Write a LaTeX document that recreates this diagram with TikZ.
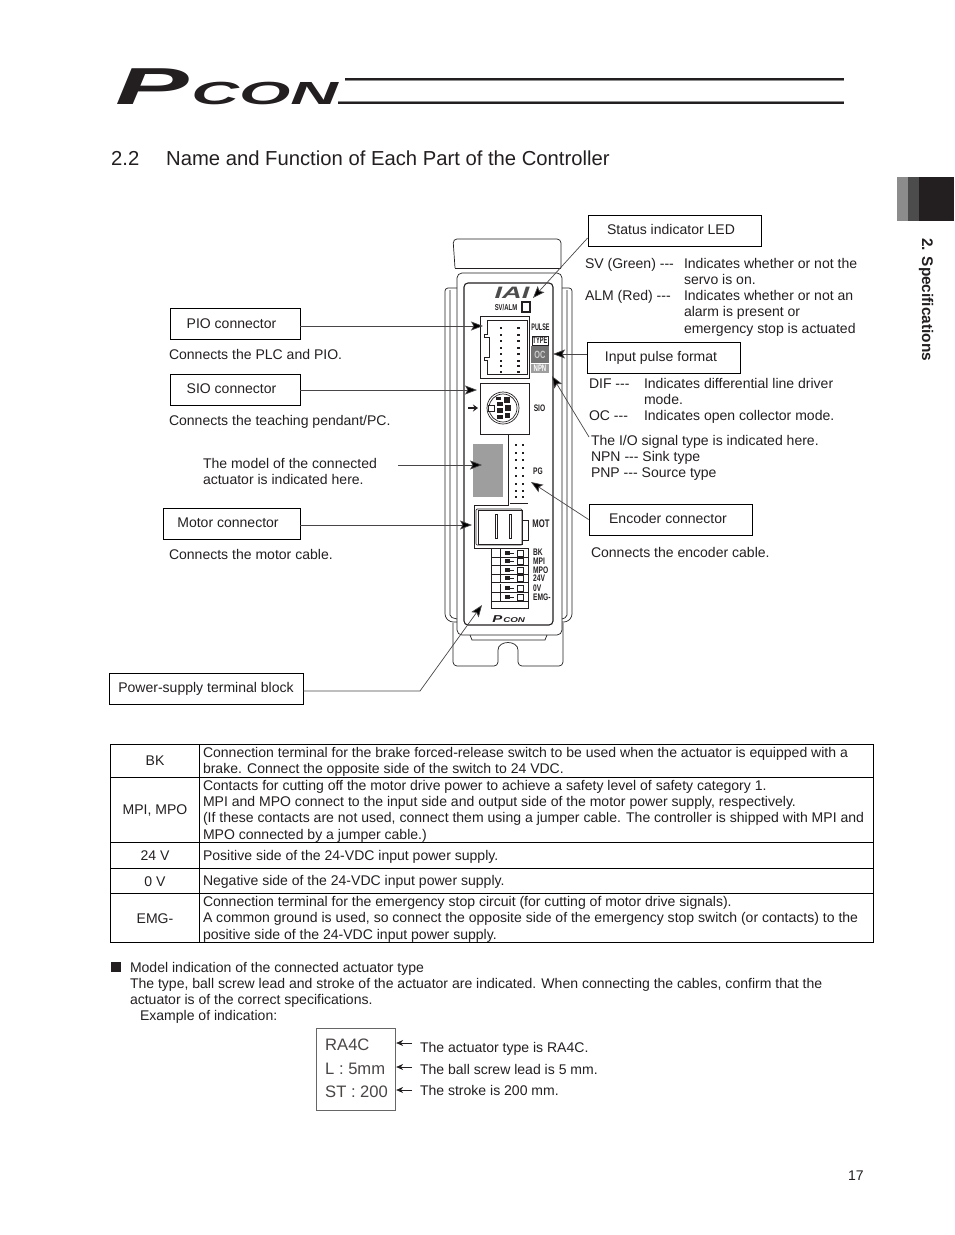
\documentclass[tikz,border=0pt]{standalone}
\usepackage{fontspec}
\setmainfont{Liberation Sans}
\usetikzlibrary{arrows.meta}
\definecolor{ink}{HTML}{231F20}
\definecolor{lead}{HTML}{4A4646}
\tikzset{
 body/.style={anchor=base west,inner sep=0pt,outer sep=0pt,font=\fontsize{14.03}{16}\selectfont,text=ink},
 mid/.style={anchor=base,inner sep=0pt,outer sep=0pt,font=\fontsize{14.03}{16}\selectfont,text=ink},
 pbox/.style={draw=black,line width=.8pt,inner sep=0pt,font=\fontsize{14.03}{16}\selectfont,text=ink},
 lead/.style={draw=lead,line width=.7pt,-{Stealth[length=12pt,width=9pt,inset=2.5pt,fill=black]}},
 devline/.style={draw=ink,line width=.7pt},
 devthick/.style={draw=ink,line width=1.1pt},
 devtext/.style={inner sep=0pt,font=\bfseries\fontsize{9.5}{10}\selectfont,text=ink,transform shape,xscale=.7},
 devleft/.style={devtext,anchor=west},
 tline/.style={draw=black,line width=.6pt},
 smallarr/.style={draw=ink,line width=.7pt,-{Stealth[length=7pt,width=6pt]}},
 lcd/.style={anchor=base west,inner sep=0pt,font=\fontsize{16.6}{18}\selectfont,text=lead},
}
\newcommand{\TX}[4]{\node[body] (#1) at (#2,#3) {#4};}
\newcommand{\MX}[4]{\node[mid] (#1) at (#2,#3) {#4};}
\newcommand{\ddd}{-{}-{}-}
\begin{document}
\begin{tikzpicture}[x=1pt,y=-1pt]
\useasboundingbox (0,0) rectangle (954,1235);
% logo
\node[anchor=base west,inner sep=0pt,font=\bfseries\itshape\fontsize{52}{52}\selectfont,text=ink,transform shape,xscale=2.12] (logoP) at (115,104) {P};
\node[anchor=base west,inner sep=0pt,font=\bfseries\itshape\fontsize{32}{32}\selectfont,text=ink,transform shape,xscale=2.06] (logoC) at (191,104) {CON};
\draw[draw=black!45,line width=1pt] (345,80.6) -- (844,80.6);
\draw[draw=ink,line width=2pt] (345,78.6) -- (844,78.6);
\draw[draw=black!45,line width=1pt] (338,101.3) -- (844,101.3);
\draw[draw=ink,line width=1.6pt] (338,103) -- (844,103);
% heading
\node[anchor=base west,inner sep=0pt,font=\fontsize{20.25}{22}\selectfont,text=ink] (hnum) at (111,165) {2.2};
\node[anchor=base west,inner sep=0pt,font=\fontsize{20.25}{22}\selectfont,text=ink] (head) at (166,165) {Name and Function of Each Part of the Controller};
% side tab
\fill[black!45] (897,177) rectangle (908,221);
\fill[black!70] (908,177) rectangle (919,221);
\fill[ink] (919,177) rectangle (954,221);
\node[anchor=base west,rotate=-90,inner sep=0pt,font=\bfseries\fontsize{15.4}{16}\selectfont,text=ink] (side) at (922,238) {2. Specifications};
% device: plates
\draw[devline,rounded corners=4pt] (455,268) -- (453,239) -- (561,239) -- (561,268);
\draw[devline] (455,268) -- (561,268);
\draw[devline,rounded corners=4pt] (453,623) -- (453,666) -- (498,666) -- (498,654) .. controls (498,640) and (518,640) .. (518,654) -- (518,666) -- (563,666) -- (563,623);
\draw[devline] (470,635) -- (472,640) -- (545,640) -- (547,635);
% device: flanges and body
\draw[devline,rounded corners=3pt] (457,288) -- (445,288) -- (445,617) -- (450,622) -- (457,622);
\draw[devline,rounded corners=2pt] (450,290) -- (450,617) -- (457,619);
\draw[devline,rounded corners=3pt] (562,288) -- (572,288) -- (572,617) -- (567,622) -- (562,622);
\draw[devline,rounded corners=2pt] (567,290) -- (567,617) -- (562,619);
\draw[devline,rounded corners=5pt] (457,635) -- (457,273) -- (562,273) -- (562,635) -- cycle;
\draw[devthick,rounded corners=4pt] (464,283) rectangle (553,625);
% device: IAI and LED
\node[inner sep=0pt,font=\bfseries\itshape\fontsize{16.5}{17}\selectfont,text=black!70,transform shape,xscale=1.65] (iai) at (512,292.5) {IAI};
\node[devtext,font=\bfseries\fontsize{8.5}{9}\selectfont] (svalm) at (506,307) {SV/ALM};
\draw[devthick,draw=ink] (522,302) rectangle (530,312);
% device: PIO connector
\draw[devline,line width=.9pt] (480,378) -- (480,316) -- (529,316) -- (529,378) -- cycle;
\draw[devline] (487,320) -- (527,320) -- (527,374) -- (487,374) -- (487,360) -- (484,360) -- (484,357) -- (489,357) -- (489,337) -- (484,337) -- (484,334) -- (487,334) -- cycle;
\foreach \yy in {328,335,341,348,354,361,366,372}{
 \fill[ink] (499.5,\yy-1) rectangle (502,\yy+1);
 \fill[ink] (517,\yy-1) rectangle (519.5,\yy+1);
}
% device: SIO
\draw[devline,line width=.9pt] (480,383) rectangle (529,434);
\draw[devline] (503,408) circle (16);
\draw[devline] (503,408) circle (14);
\draw[devline,fill=white] (488,405) rectangle (494,411);
\fill[ink] (496,397) rectangle (501,400); \fill[ink] (504,397) rectangle (510,403);
\fill[ink] (497,402) rectangle (503,406); \fill[ink] (505,405) rectangle (511,411);
\fill[ink] (497,408) rectangle (503,413); \fill[ink] (505,413) rectangle (510,418);
\fill[ink] (497,415) rectangle (503,419);
\coordinate (blkTip) at (478,408);
\coordinate (blkEnd) at (468,408);
\draw[draw=ink,line width=2pt,-{Stealth[length=5pt,width=7pt]}] (blkEnd) -- (blkTip);
% device: grey panel and PG
\fill[fill=black!38] (473,444) rectangle (503,497);
\draw[devline] (508,434) -- (508,505) -- (474,505) -- (474,548) -- (491,548);
\draw[devline] (510,503) -- (528,503);
\foreach \yy in {445,453,460,468,476,484,491,497}{
 \fill[ink] (514.5,\yy-1) rectangle (516.5,\yy+1);
 \fill[ink] (521.5,\yy-1) rectangle (523.5,\yy+1);
}
% device: motor connector
\draw[devline,rounded corners=1pt] (476,509) rectangle (522,545);
\draw[devline] (478,510) rectangle (522,544);
\draw[devline] (522,520) -- (528,520) -- (528,540) -- (522,540);
\draw[devline] (495,514) rectangle (497,538);
\draw[devline] (509,514) rectangle (511,538);
% device: terminal block
\draw[devline,line width=.9pt] (491,548) -- (491,608) -- (528,608) -- (528,548) -- cycle;
\foreach \yy in {553,561,570,578,588,597}{
 \draw[devline] (491,\yy+4.3) -- (528,\yy+4.3);
 \fill[ink] (505,\yy-2) rectangle (510,\yy+2);
 \draw[devline] (510,\yy) -- (514,\yy);
 \draw[devline] (517,\yy-3) rectangle (523,\yy+3);
 \draw[devline] (500,\yy-4) -- (500,\yy+4);
}
% device: labels
\node[devtext,xscale=.82] (dPulse) at (540.5,327) {PULSE};
\node[devtext,draw=ink,text=ink,inner sep=1pt,xscale=.85] (dType) at (540,340.5) {TYPE};
\fill[black!55] (531,346) rectangle (549,363);
\node[devtext,text=black!20,font=\bfseries\fontsize{10.5}{11}\selectfont] (dOC) at (540,354.5) {OC};
\fill[black!38] (531,364) rectangle (549,373);
\node[devtext,text=white,xscale=.9] (dNPN) at (540,368.5) {NPN};
\node[devtext] (dSIO) at (539.5,408) {SIO};
\node[devtext] (dPG) at (538,471) {PG};
\node[devtext,font=\bfseries\fontsize{11}{11}\selectfont] (dMOT) at (541,524) {MOT};
\node[devleft] (dBK) at (533,552.5) {BK};
\node[devleft] (dMPI) at (533,561) {MPI};
\node[devleft] (dMPO) at (533,570) {MPO};
\node[devleft] (d24) at (533,578.5) {24V};
\node[devleft] (d0V) at (533,588) {0V};
\node[devleft] (dEMG) at (533,597) {EMG-};
\node[anchor=base west,inner sep=0pt,font=\bfseries\itshape\fontsize{10}{10}\selectfont,text=ink,transform shape,xscale=1.5] (smallP) at (492,622) {P};
\node[anchor=base west,inner sep=0pt,font=\bfseries\itshape\fontsize{7}{7}\selectfont,text=ink,transform shape,xscale=1.4] (smallC) at (503,622) {CON};
% callout boxes
\node[pbox,minimum width=173pt,minimum height=31pt] (status) at (674.5,230.5) {\raisebox{1.5pt}{\kern-7pt Status indicator LED}};
\node[pbox,minimum width=130pt,minimum height=31pt] (pio) at (235,323.5) {\raisebox{.5pt}{\kern-7pt PIO connector}};
\node[pbox,minimum width=130pt,minimum height=31pt] (sio) at (235,389.5) {\raisebox{1.5pt}{\kern-7pt SIO connector}};
\node[pbox,minimum width=137pt,minimum height=31pt] (motor) at (231.5,523.5) {\raisebox{1.5pt}{\kern-7pt Motor connector}};
\node[pbox,minimum width=153pt,minimum height=31pt] (input) at (663.5,357.5) {\kern-5pt Input pulse format};
\node[pbox,minimum width=163pt,minimum height=31pt] (encoder) at (670.5,519.5) {\raisebox{1.5pt}{\kern-5pt Encoder connector}};
\node[pbox,minimum width=194pt,minimum height=31pt] (power) at (206,688.5) {Power-supply terminal block};
% connector targets
\coordinate (tStatus) at (533,298);
\coordinate (tPio) at (483,326);
\coordinate (tSio) at (477,390);
\coordinate (tModel) at (482,465);
\coordinate (tMotor) at (472,525);
\coordinate (tInput) at (553,354);
\coordinate (tNpn) at (552,376);
\coordinate (sNpn) at (589,437);
\coordinate (tEnc) at (531,482);
\coordinate (tPower) at (482,605);
\coordinate (kPower) at (420,691);
\draw[lead] (status.south west |- 588,238) -- (tStatus);
\draw[lead] (pio.east |- tPio) -- (tPio);
\draw[lead] (sio.east |- tSio) -- (tSio);
\draw[lead] (motor.east |- tMotor) -- (tMotor);
\draw[lead] (input.west |- tInput) -- (tInput);
\draw[lead] (sNpn) -- (tNpn);
\draw[lead] (encoder.west) -- (tEnc);
\draw[lead] (power.east |- kPower) -- (kPower) -- (tPower);
% left text
\TX{t1}{169}{359}{Connects the PLC and PIO.}
\TX{t2}{169}{425}{Connects the teaching pendant/PC.}
\TX{t3}{203}{468}{The model of the connected}
\TX{t4}{203}{484}{actuator is indicated here.}
\coordinate (sModel) at (398,465);
\draw[lead] (sModel) -- (tModel);
\TX{t5}{169}{559}{Connects the motor cable.}
% right text
\TX{r1}{585}{268}{SV (Green) \ddd}
\TX{r2}{684}{268}{Indicates whether or not the}
\TX{r3}{684}{284}{servo is on.}
\TX{r4}{585}{300}{ALM (Red) \ddd}
\TX{r5}{684}{300}{Indicates whether or not an}
\TX{r6}{684}{316}{alarm is present or}
\TX{r7}{684}{333}{emergency stop is actuated}
\TX{r8}{589}{388}{DIF \ddd}
\TX{r9}{644}{388}{Indicates differential line driver}
\TX{r10}{644}{404}{mode.}
\TX{r11}{589}{420}{OC \ddd}
\TX{r12}{644}{420}{Indicates open collector mode.}
\TX{r13}{591}{445}{The I/O signal type is indicated here.}
\TX{r14}{591}{461}{NPN \ddd{} Sink type}
\TX{r15}{591}{477}{PNP \ddd{} Source type}
\TX{r16}{591}{557}{Connects the encoder cable.}
% table
\draw[tline] (110,744) rectangle (873,942);
\draw[tline] (199,744) -- (199,942);
\draw[tline] (110,777) -- (873,777);
\draw[tline] (110,842) -- (873,842);
\draw[tline] (110,868) -- (873,868);
\draw[tline] (110,893) -- (873,893);
\MX{c1}{155}{765}{BK}
\MX{c2}{155}{814}{MPI, MPO}
\MX{c3}{155}{860}{24 V}
\MX{c4}{155}{886}{0 V}
\MX{c5}{155}{923}{EMG-}
\TX{d1}{203}{757}{Connection terminal for the brake forced-release switch to be used when the actuator is equipped with a}
\TX{d2}{203}{773}{brake. Connect the opposite side of the switch to 24 VDC.}
\TX{d3}{203}{790}{Contacts for cutting off the motor drive power to achieve a safety level of safety category 1.}
\TX{d4}{203}{806}{MPI and MPO connect to the input side and output side of the motor power supply, respectively.}
\TX{d5}{203}{822}{(If these contacts are not used, connect them using a jumper cable. The controller is shipped with MPI and}
\TX{d6}{203}{839}{MPO connected by a jumper cable.)}
\TX{d7}{203}{860}{Positive side of the 24-VDC input power supply.}
\TX{d8}{203}{885}{Negative side of the 24-VDC input power supply.}
\TX{d9}{203}{906}{Connection terminal for the emergency stop circuit (for cutting of motor drive signals).}
\TX{d10}{203}{922}{A common ground is used, so connect the opposite side of the emergency stop switch (or contacts) to the}
\TX{d11}{203}{939}{positive side of the 24-VDC input power supply.}
% note
\fill[ink] (111,962) rectangle (121,972);
\TX{n1}{130}{972}{Model indication of the connected actuator type}
\TX{n2}{130}{988}{The type, ball screw lead and stroke of the actuator are indicated. When connecting the cables, confirm that the}
\TX{n3}{130}{1004}{actuator is of the correct specifications.}
\TX{n4}{140}{1020}{Example of indication:}
\node[draw=black!60,line width=.8pt,minimum width=79.5pt,minimum height=82pt,inner sep=0pt] (lcdbox) at (356,1069) {};
\node[lcd] (l1) at (325,1050) {RA4C};
\node[lcd] (l2) at (325,1074) {L : 5mm};
\node[lcd] (l3) at (325,1097) {ST : 200};
\TX{a1}{420}{1052}{The actuator type is RA4C.}
\TX{a2}{420}{1074}{The ball screw lead is 5 mm.}
\TX{a3}{420}{1095}{The stroke is 200 mm.}
\coordinate (e1) at (412,1043);\coordinate (e2) at (412,1067);\coordinate (e3) at (412,1090);
\draw[smallarr] (e1) -- (lcdbox.east |- e1);
\draw[smallarr] (e2) -- (lcdbox.east |- e2);
\draw[smallarr] (e3) -- (lcdbox.east |- e3);
\TX{pg}{848}{1180}{17}
\end{tikzpicture}
\end{document}
